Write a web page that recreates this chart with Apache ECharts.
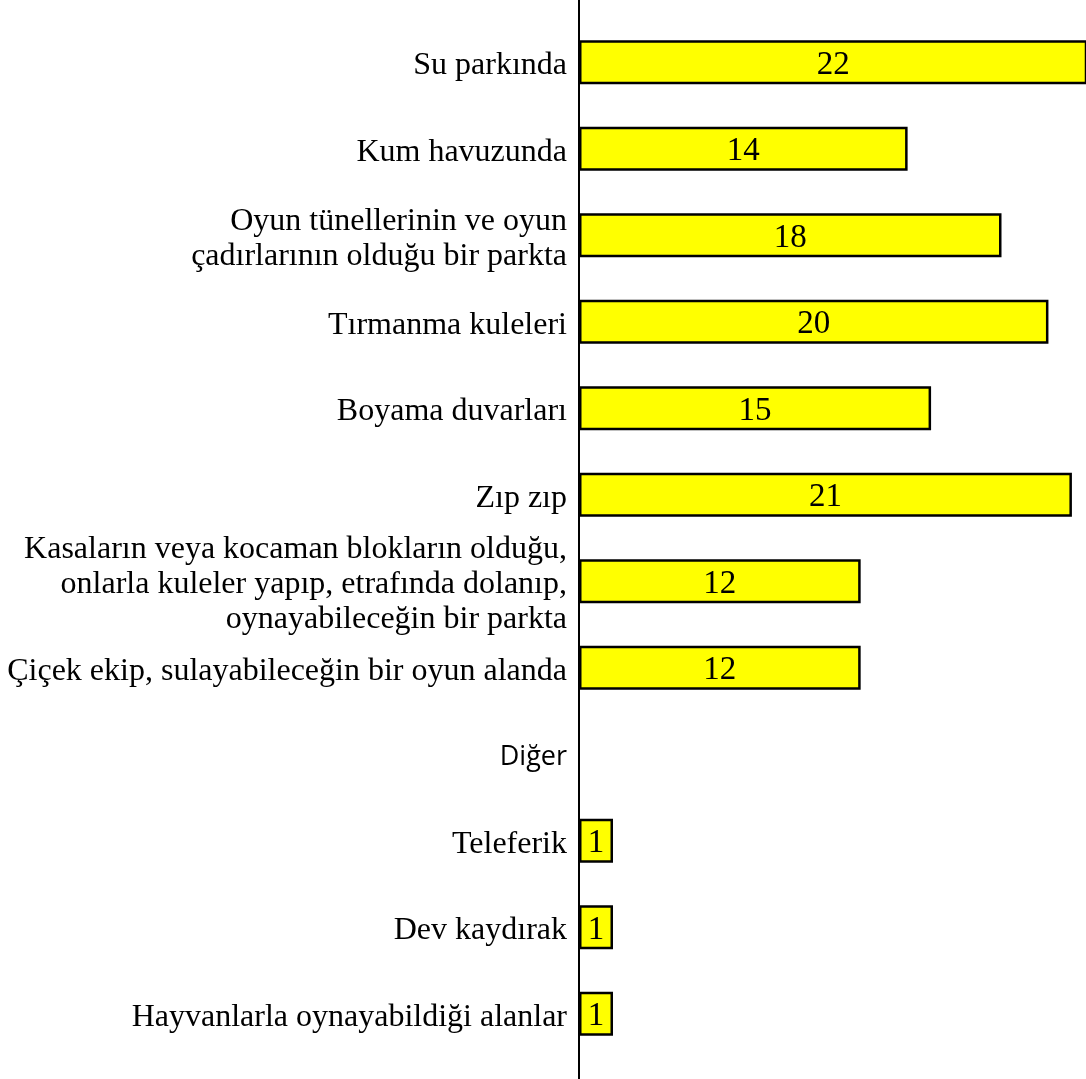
<!DOCTYPE html>
<html>
<head>
<meta charset="utf-8">
<script src="https://cdn.jsdelivr.net/npm/echarts@6/dist/echarts.min.js"></script>
<style>
html, body { margin: 0; padding: 0; background: #fff; }
#chart { width: 1086px; height: 1079px; }
</style>
</head>
<body>
<div id="chart"></div>
<script>
// kategoriler (yukaridan asagiya)
var categories = [
    'Su parkında',
    'Kum havuzunda',
    'Oyun tünellerinin ve oyun\nçadırlarının olduğu bir parkta',
    'Tırmanma kuleleri',
    'Boyama duvarları',
    'Zıp zıp',
    'Kasaların veya kocaman blokların olduğu,\nonlarla kuleler yapıp, etrafında dolanıp,\noynayabileceğin bir parkta',
    'Çiçek ekip, sulayabileceğin bir oyun alanda',
    'Diğer',
    'Teleferik',
    'Dev kaydırak',
    'Hayvanlarla oynayabildiği alanlar'
];
var values = [22, 14, 18, 20, 15, 21, 12, 12, '-', 1, 1, 1];
var headerCategory = 'Diğer';

var chart = echarts.init(document.getElementById('chart'));

var option = {
    animation: false,
    backgroundColor: '#fff',
    grid: {
        left: 579,
        right: 0,
        top: 19,
        height: 1038
    },
    xAxis: {
        type: 'value',
        min: 0,
        max: 21.6,
        show: false,
        splitLine: { show: false }
    },
    yAxis: {
        type: 'category',
        inverse: true,
        data: categories,
        axisTick: { show: false },
        axisLine: {
            show: true,
            lineStyle: { color: '#000', width: 2 }
        },
        axisLabel: {
            interval: 0,
            margin: 12,
            color: '#000',
            fontFamily: 'Liberation Serif',
            fontSize: 32,
            lineHeight: 35,
            align: 'right',
            padding: [7, 0, 0, 0],
            formatter: function (v) {
                if (v === headerCategory) return '{sans|' + v + '}';
                return v;
            },
            rich: {
                sans: {
                    fontFamily: 'Open Sans',
                    fontSize: 27,
                    color: '#000'
                }
            }
        }
    },
    series: [{
        type: 'bar',
        data: values,
        barWidth: 44,
        barMinHeight: 34,
        itemStyle: {
            color: '#ffff00',
            borderColor: '#000',
            borderWidth: 2.5
        },
        label: {
            show: true,
            position: 'inside',
            offset: [0, 3],
            color: '#000',
            fontFamily: 'Liberation Serif',
            fontSize: 33
        }
    }]
};
chart.setOption(option);

// eksen cizgisi resmin tamamı boyunca uzanıyor
var axisX = chart.convertToPixel({ xAxisIndex: 0 }, 0);
chart.setOption({
    graphic: [{
        type: 'line',
        z: 100,
        shape: { x1: axisX, y1: 0, x2: axisX, y2: 1079 },
        style: { stroke: '#000', lineWidth: 2 }
    }]
});
</script>
</body>
</html>
